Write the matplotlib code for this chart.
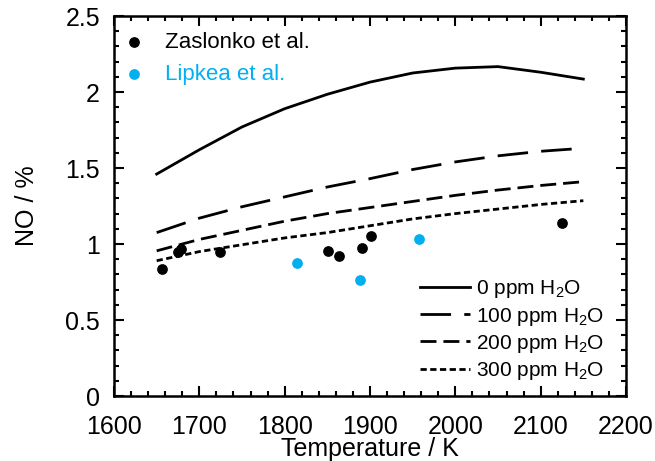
import matplotlib
matplotlib.use("Agg")
import matplotlib.pyplot as plt
from matplotlib.ticker import MultipleLocator, FuncFormatter

plt.rcParams['font.family'] = ['Liberation Sans', 'DejaVu Sans']
plt.rcParams['mathtext.default'] = 'regular'
plt.rcParams['lines.scale_dashes'] = False

# Data
T_model = [1650, 1700, 1750, 1800, 1850, 1900, 1950, 2000, 2050, 2100, 2150]
no_0ppm = [1.46, 1.62, 1.77, 1.89, 1.985, 2.065, 2.125, 2.157, 2.167, 2.13, 2.085]
no_100ppm = [1.075, 1.17, 1.245, 1.31, 1.375, 1.43, 1.49, 1.54, 1.58, 1.61, 1.63]
no_200ppm = [0.955, 1.03, 1.09, 1.15, 1.20, 1.24, 1.28, 1.32, 1.355, 1.385, 1.41]
no_300ppm = [0.89, 0.95, 0.995, 1.04, 1.075, 1.12, 1.165, 1.20, 1.23, 1.26, 1.285]

zas_T = [1656, 1675, 1678, 1724, 1851, 1864, 1891, 1901, 2125]
zas_NO = [0.835, 0.95, 0.97, 0.95, 0.952, 0.92, 0.972, 1.054, 1.14]
lip_T = [1815, 1888, 1957]
lip_NO = [0.876, 0.765, 1.033]

series_labels = ['0 ppm H$_2$O', '100 ppm H$_2$O', '200 ppm H$_2$O', '300 ppm H$_2$O']
blue = '#00B0F0'

W, H = 655, 461
fig = plt.figure(figsize=(W / 100, H / 100), dpi=100)
ax = fig.add_axes([114 / W, (H - 396) / H, 512 / W, 380 / H])

lw = 2.0
l0, = ax.plot(T_model, no_0ppm, color='black', lw=lw, ls='-')
l1, = ax.plot(T_model, no_100ppm, color='black', lw=lw, ls=(0, (22, 9.5)))
l2, = ax.plot(T_model, no_200ppm, color='black', lw=lw, ls=(0, (11.5, 5)))
l3, = ax.plot(T_model, no_300ppm, color='black', lw=lw, ls=(0, (4.5, 2.5)))

s1 = ax.scatter(zas_T, zas_NO, s=45, color='black', zorder=3)
s2 = ax.scatter(lip_T, lip_NO, s=45, color=blue, zorder=3)

ax.set_xlim(1600, 2200)
ax.set_ylim(0, 2.5)
ax.xaxis.set_major_locator(MultipleLocator(100))
ax.xaxis.set_minor_locator(MultipleLocator(20))
ax.yaxis.set_major_locator(MultipleLocator(0.5))
ax.yaxis.set_minor_locator(MultipleLocator(0.1))
ax.yaxis.set_major_formatter(FuncFormatter(lambda v, p: '%g' % v))
ax.tick_params(which='both', direction='in', top=True, right=True, width=1.5,
               labelsize=18)
ax.tick_params(which='major', length=7)
ax.tick_params(which='minor', length=3.5)
ax.tick_params(axis='x', which='major', pad=13.5)
ax.tick_params(axis='y', which='major', pad=10)
for sp in ax.spines.values():
    sp.set_linewidth(1.8)

ax.set_xlabel('Temperature / K', fontsize=18, labelpad=-1)
ax.set_ylabel('NO / %', fontsize=18, labelpad=19)

leg1 = ax.legend([s1, s2], ['Zaslonko et al.', 'Lipkea et al.'], loc='upper left',
                 bbox_to_anchor=(121 / W, 1 - 32 / H),
                 bbox_transform=fig.transFigure, frameon=False, fontsize=16,
                 handletextpad=0.8, labelspacing=0.5, borderaxespad=0,
                 borderpad=0, handlelength=1.2)
leg1.get_texts()[1].set_color(blue)
ax.add_artist(leg1)

leg2 = ax.legend([l0, l1, l2, l3], series_labels, loc='lower right',
                 bbox_to_anchor=(604 / W, (H - 382) / H),
                 bbox_transform=fig.transFigure, frameon=False, fontsize=15,
                 handlelength=2.4, handletextpad=0.3, labelspacing=0.25,
                 borderaxespad=0, borderpad=0)

fig.savefig('out.png', dpi=100)
